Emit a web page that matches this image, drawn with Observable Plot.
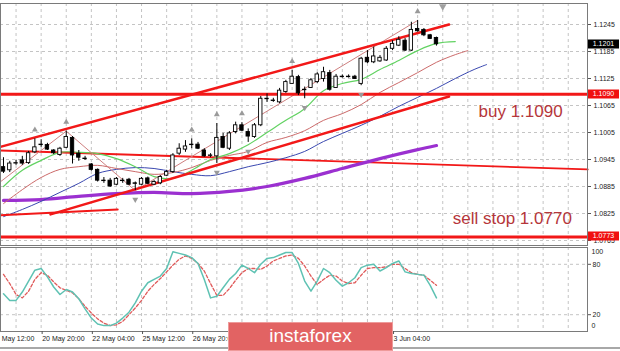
<!DOCTYPE html>
<html><head><meta charset="utf-8">
<script src="https://cdn.jsdelivr.net/npm/d3@7"></script>
<script src="https://cdn.jsdelivr.net/npm/@observablehq/plot@0.6"></script>
<style>
html,body{margin:0;padding:0;background:#fff;}
#wrap{position:relative;width:620px;height:351px;overflow:hidden;background:#fff;}
#main,#stoch{position:absolute;left:0;}
#main{top:0;} #stoch{top:247px;}
#wm{position:absolute;left:228px;top:322px;width:165px;height:29px;background:#e26363;color:#fff;
 font:19px "Liberation Sans",Arial,sans-serif;text-align:center;line-height:28px;box-shadow:inset 0 0 0 1px #ee9a9a;}
#bl{position:absolute;left:0;top:347px;width:620px;height:2px;background:#a8a8a8;}
</style></head><body>
<div id="wrap"><div id="main"></div><div id="stoch"></div><div id="bl"></div><div id="wm">instaforex</div></div>
<script>
// ---- candles (H4 EURUSD), index 0..69
const open = [1.0928,1.0921,1.0936,1.0943,1.0937,1.0961,1.0977,1.0977,1.0965,1.0955,
1.0971,1.0993,1.0958,1.0947,1.0934,1.0922,1.0898,1.0898,1.0889,1.0898,
1.0900,1.0892,1.0889,1.0903,1.0889,1.0892,1.0909,1.0917,1.0958,1.0967,
1.0977,1.0978,1.0965,1.0953,1.0952,1.0995,1.0969,1.1006,1.1021,1.1006,
1.0995,1.1021,1.1079,1.1076,1.1072,1.1095,1.1113,1.1128,1.1099,1.1104,
1.1117,1.1124,1.1137,1.1104,1.1128,1.1129,1.1129,1.1113,1.1171,1.1161,
1.1163,1.1165,1.1191,1.1198,1.1209,1.1187,1.1235,1.1233,1.1221,1.1215];
const close = [1.0918,1.0936,1.0937,1.0936,1.0959,1.0972,1.0978,1.0967,1.0959,1.0969,
1.0995,1.0954,1.0949,1.0946,1.0922,1.0898,1.0897,1.0885,1.0902,1.0897,
1.0889,1.0891,1.0902,1.0891,1.0895,1.0906,1.0917,1.0954,1.0969,1.0974,
1.0978,1.0969,1.0952,1.0954,1.0993,1.0971,1.1003,1.1021,1.1009,1.0996,
1.1021,1.1080,1.1080,1.1075,1.1098,1.1117,1.1129,1.1092,1.1100,1.1121,
1.1134,1.1139,1.1100,1.1129,1.1129,1.1128,1.1124,1.1169,1.1161,1.1174,
1.1171,1.1191,1.1202,1.1211,1.1187,1.1233,1.1230,1.1221,1.1213,1.1201];
const high = [1.0949,1.0941,1.0943,1.0952,1.0963,1.0991,1.0989,1.0981,1.0967,1.0972,
1.1008,1.0996,1.0965,1.0952,1.0936,1.0924,1.0905,1.0903,1.0905,1.0903,
1.0903,1.0895,1.0905,1.0906,1.0898,1.0909,1.0921,1.0958,1.0980,1.0987,
1.0991,1.0983,1.0969,1.0958,1.1025,1.1003,1.1007,1.1028,1.1027,1.1013,
1.1025,1.1085,1.1091,1.1081,1.1103,1.1121,1.1143,1.1132,1.1106,1.1125,
1.1138,1.1150,1.1143,1.1134,1.1133,1.1133,1.1132,1.1172,1.1187,1.1195,
1.1176,1.1196,1.1209,1.1218,1.1214,1.1250,1.1254,1.1236,1.1223,1.1217];
const low = [1.0914,1.0916,1.0932,1.0932,1.0934,1.0958,1.0972,1.0965,1.0956,1.0952,
1.0969,1.0935,1.0941,1.0943,1.0919,1.0895,1.0892,1.0883,1.0887,1.0892,
1.0887,1.0876,1.0887,1.0889,1.0887,1.0889,1.0907,1.0914,1.0954,1.0961,
1.0969,1.0967,1.0950,1.0949,1.0936,1.0969,1.0965,1.1002,1.1007,1.0983,
1.0992,1.1018,1.1072,1.1072,1.1069,1.1092,1.1112,1.1087,1.1080,1.1103,
1.1114,1.1117,1.1097,1.1103,1.1126,1.1126,1.1123,1.1109,1.1158,1.1158,
1.1161,1.1163,1.1187,1.1196,1.1185,1.1185,1.1228,1.1218,1.1212,1.1197];

// ---- Alligator lines (plotted bar index incl. shift) and long MA
const lipsIdx = [0,3,6,9,12,15,18,21,24,27,30,33,36,39,42,45,48,51,54,57,60,63,66,69,72];
const lipsVal = [1.0885,1.0921,1.0943,1.0961,1.0961,1.0958,1.0947,1.0929,1.0907,1.0903,1.0921,1.0945,1.0958,1.0978,1.1005,1.1032,1.1058,1.1098,1.1114,1.1123,1.1145,1.1165,1.1187,1.1203,1.1207];
const teethIdx = [0,3,6,9,12,15,18,21,24,27,30,33,36,39,42,45,48,51,54,57,60,63,66,69,72,74];
const teethVal = [1.0847,1.0878,1.0905,1.0923,1.0929,1.0932,1.0925,1.0918,1.0912,1.0916,1.0927,1.0943,1.0954,1.0963,1.0983,1.0994,1.1009,1.1032,1.1047,1.1067,1.1094,1.1116,1.1138,1.1161,1.1178,1.1187];
const jawIdx = [0,3,6,9,12,15,18,21,24,27,30,33,36,39,42,45,48,51,54,57,60,63,66,69,72,75,77];
const jawVal = [1.0818,1.0834,1.0852,1.0872,1.0892,1.0914,1.0923,1.0927,1.0925,1.0918,1.0912,1.0909,1.0918,1.0929,1.0938,1.0949,1.0963,1.0985,1.1003,1.1021,1.1041,1.1063,1.1083,1.1103,1.1125,1.1145,1.1156];
const maIdx = [0,6,12,18,24,30,36,42,48,54,60,66,69];
const maVal = [1.0854,1.0856,1.0863,1.0869,1.0872,1.0869,1.0874,1.0885,1.0903,1.0925,1.0947,1.0967,1.0976];

// ---- zigzag and fractals
const zzIdx = [-1,10,21,66];
const zzVal = [1.0890,1.1008,1.0876,1.1254];
const fractalUp = [5,10,30,34,38,46,66];
const fractalDown = [21,34,39,48,57];

// ---- drawn objects
const chanUpIdx = [-0.5,71], chanUpVal = [1.0973,1.1245];
const chanLoIdx = [7.5,71], chanLoVal = [1.0823,1.1085];
const baseIdx = [-0.5,18.2], baseVal = [1.0821,1.0834];
const slopeIdx = [-0.5,93.1], slopeVal = [1.0965,1.0923];
const levels = [1.1090,1.0773];
const tagPrices = [1.1201,1.1090,1.0773];
const tagColors = ["#000000","#f01010","#f01010"];
const noteText = ["buy 1.1090","sell stop 1.0770"];
const noteIdx = [75.7,71.6];
const noteVal = [1.1052,1.0813];

// ---- stochastic
const stochK = [45,37,37,47,60,73,75,65,53,44,50,47,39,27,16,9,7,7,10,16,
23,34,48,58,62,66,75,95,93,91,88,81,62,40,42,52,62,69,79,75,
70,80,87,88,91,94,94,81,60,48,60,75,70,61,54,58,64,76,79,80,
72,76,81,84,71,69,68,67,55,40];
const stochD = [68,57,44,40,48,62,70,67,59,52,49,46,39,30,22,15,10,7,8,12,
20,28,37,48,56,63,71,79,86,90,87,81,72,57,43,43,51,61,70,75,
75,74,78,84,87,90,91,87,78,66,56,62,67,66,60,57,58,67,75,76,
76,77,80,80,75,70,68,67,61,55];

// ---- axes (labels hidden behind the watermark are not drawn)
const priceTicks = [1.0765,1.0825,1.0885,1.0945,1.1005,1.1065,1.1125,1.1185,1.1245];
const timeTickIdx = [-2,6,14,22,30,62];
const timeTickLabels = ["19 May 12:00","20 May 20:00","22 May 04:00","25 May 12:00","26 May 20:00","3 Jun 04:00"];
const shiftMarkIdx = [70];

// ---------------------------------------------------------------
const candles = open.map((o,i)=>({i, open:o, close:close[i], high:high[i], low:low[i]}));
const bull = candles.filter(d=>d.close>=d.open), bear = candles.filter(d=>d.close<d.open);
const pts = (I,V)=>I.map((j,k)=>({j, v:V[k]}));
const xDomain = [-0.478, 93.07];
const gridIdx = d3.range(2, 93, 4);
const font = '"Liberation Sans", Arial, sans-serif';
const red = "#f21818";

function tagMark(prices, colors){
  return (index, scales, values, dims) => {
    const g = d3.create("svg:g");
    const x0 = dims.width - dims.marginRight + 1;
    prices.forEach((p,k)=>{
      const y = Math.round(scales.y(p));
      g.append("rect").attr("x",x0).attr("y",y-4.5).attr("width",31).attr("height",9).attr("fill",colors[k]);
      g.append("text").attr("x",x0+15.5).attr("y",y).attr("dy","0.35em").attr("text-anchor","middle")
        .attr("fill","#fff").attr("font-size",7).attr("font-family",font).text(p.toFixed(4));
    });
    return g.node();
  };
}

const main = Plot.plot({
  width: 620, height: 247, marginLeft: 0, marginRight: 33, marginTop: 3, marginBottom: 2,
  x: {domain: xDomain, axis: null},
  y: {domain: [1.075389, 1.129167], axis: null},
  style: {background: "#fff", fontFamily: font, overflow: "visible"},
  marks: [
    Plot.gridX(gridIdx, {stroke: "#c4c4c4", strokeOpacity: 1, strokeDasharray: "3,3"}),
    Plot.gridY(priceTicks, {stroke: "#c4c4c4", strokeOpacity: 1, strokeDasharray: "3,3"}),
    Plot.line(pts(slopeIdx, slopeVal), {x: "j", y: "v", stroke: red, strokeWidth: 1.8}),
    Plot.line(pts(maIdx, maVal), {x: "j", y: "v", stroke: "#9b30d0", strokeWidth: 3.2, curve: "catmull-rom"}),
    Plot.line(pts(jawIdx, jawVal), {x: "j", y: "v", stroke: "#3a48b0", strokeWidth: 1, curve: "catmull-rom"}),
    Plot.line(pts(teethIdx, teethVal), {x: "j", y: "v", stroke: "#cc6a6a", strokeWidth: 1, curve: "catmull-rom"}),
    Plot.line(pts(lipsIdx, lipsVal), {x: "j", y: "v", stroke: "#62d262", strokeWidth: 1.2, curve: "catmull-rom"}),
    Plot.line(pts(zzIdx, zzVal), {x: "j", y: "v", stroke: "#cf8080", strokeWidth: 1}),
    Plot.ruleY(levels, {stroke: red, strokeWidth: 3}),
    Plot.line(pts(chanUpIdx, chanUpVal), {x: "j", y: "v", stroke: red, strokeWidth: 2.5}),
    Plot.line(pts(chanLoIdx, chanLoVal), {x: "j", y: "v", stroke: red, strokeWidth: 2.5}),
    Plot.line(pts(baseIdx, baseVal), {x: "j", y: "v", stroke: red, strokeWidth: 2}),
    Plot.ruleX(candles, {x: "i", y1: "low", y2: "high", stroke: "#000", strokeWidth: 1}),
    Plot.rect(bull, {x1: d=>d.i-0.27, x2: d=>d.i+0.27, y1: "open", y2: "close", fill: "#fff", stroke: "#000", strokeWidth: 0.9}),
    Plot.rect(bear, {x1: d=>d.i-0.27, x2: d=>d.i+0.27, y1: "open", y2: "close", fill: "#000", stroke: "#000", strokeWidth: 0.9}),
    Plot.dot(fractalUp, {x: d=>d, y: d=>high[d], dy: -9, symbol: "triangle", r: 2.2, fill: "#9a9a9a"}),
    Plot.dot(fractalDown, {x: d=>d, y: d=>low[d], dy: 9, symbol: "triangle", rotate: 180, r: 2.2, fill: "#9a9a9a"}),
    Plot.dot(shiftMarkIdx, {x: d=>d, frameAnchor: "top", dy: 3, symbol: "triangle", rotate: 180, r: 2.8, fill: "#a0a0a0"}),
    Plot.text(noteText, {x: (d,k)=>noteIdx[k], y: (d,k)=>noteVal[k], text: d=>d, textAnchor: "start", fontSize: 17, fill: "#b5363a"}),
    Plot.frame({stroke: "#7a7a7a"}),
    Plot.axisY(priceTicks, {anchor: "right", tickSize: 3, tickPadding: 3, fontSize: 7, tickFormat: d=>d.toFixed(4), fill: "#222", stroke: "#555"}),
    tagMark(tagPrices, tagColors)
  ]
});
document.getElementById("main").appendChild(main);

const labelMap = new Map(timeTickIdx.map((d,k)=>[d, timeTickLabels[k]]));
const stoch = Plot.plot({
  width: 620, height: 104, marginLeft: 0, marginRight: 33, marginTop: 0, marginBottom: 20,
  x: {domain: xDomain, axis: null},
  y: {domain: [0, 100], axis: null},
  style: {background: "#fff", fontFamily: font, overflow: "visible"},
  marks: [
    Plot.gridX(gridIdx, {stroke: "#c4c4c4", strokeOpacity: 1, strokeDasharray: "3,3"}),
    Plot.gridY([20, 80], {stroke: "#c4c4c4", strokeOpacity: 1, strokeDasharray: "3,3"}),
    Plot.line(stochD, {x: (d,i)=>i, y: d=>d, stroke: "#e05a5a", strokeWidth: 1.3, strokeDasharray: "3,2"}),
    Plot.line(stochK, {x: (d,i)=>i, y: d=>d, stroke: "#5fc2b3", strokeWidth: 1.5}),
    Plot.frame({stroke: "#7a7a7a"}),
    Plot.axisY([20, 80], {anchor: "right", tickSize: 3, tickPadding: 2, fontSize: 7, fill: "#222", stroke: "#555"}),
    Plot.text([100], {y: d=>d, frameAnchor: "right", dx: 4, dy: 4, textAnchor: "start", fontSize: 7, fill: "#222", text: d=>String(d)}),
    Plot.text([0], {y: d=>d, frameAnchor: "right", dx: 4, dy: -6, textAnchor: "start", fontSize: 7, fill: "#222", text: d=>String(d)}),
    Plot.axisX(timeTickIdx, {anchor: "bottom", tickSize: 3, tickPadding: 2, fontSize: 7, textAnchor: "start", dx: 1,
      tickFormat: d=>labelMap.get(d), fill: "#222", stroke: "#555"})
  ]
});
document.getElementById("stoch").appendChild(stoch);
</script>
</body></html>
